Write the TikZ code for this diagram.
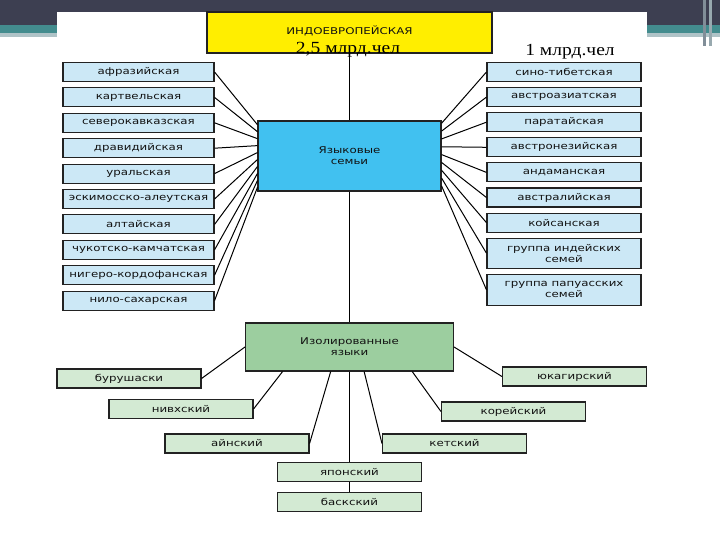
\documentclass[tikz,border=0pt]{standalone}
\usepackage{fontspec}
\setmainfont{DejaVu Sans}
\newfontfamily\boxfont[FakeStretch=1.27]{DejaVu Sans}
\newfontfamily\notefont[FakeStretch=1.15]{Liberation Serif}
\usetikzlibrary{positioning,calc}

\definecolor{slidedark}{HTML}{3D3F51}
\definecolor{slideteal}{HTML}{438C8E}
\definecolor{slidegrey}{HTML}{AFC3C7}
\definecolor{boxline}{HTML}{222222}
\definecolor{boxtext}{HTML}{111111}
\definecolor{topfill}{HTML}{FFEE00}
\definecolor{hubfill}{HTML}{41C1F0}
\definecolor{famfill}{HTML}{CCE8F6}
\definecolor{isofill}{HTML}{9CCE9F}
\definecolor{langfill}{HTML}{D3EAD3}

\begin{document}
\begin{tikzpicture}[
  x=1pt, y=-1pt,
  font=\boxfont\fontsize{9.3}{10.8}\selectfont, text=boxtext,
  box/.style={draw=boxline, line width=1.1pt, align=center, inner sep=0pt},
  fam/.style={box, fill=famfill, minimum width=151pt, minimum height=19pt},
  famr/.style={box, fill=famfill, minimum width=154pt, minimum height=19pt},
  lang/.style={box, fill=langfill, minimum width=144pt, minimum height=19pt},
  link/.style={draw=black, line width=1pt},
  note/.style={font=\notefont\fontsize{17}{17}\selectfont, text=black, inner sep=0pt}
]
  \useasboundingbox (0,0) rectangle (720,540);

  % slide background
  \fill[slidedark] (0,0) rectangle (720,25);
  \fill[slideteal] (0,25) rectangle (720,33);
  \fill[slidegrey] (0,33) rectangle (720,37);
  \fill[slidegrey!60!slidedark] (703,0) rectangle (706,46);
  \fill[slidegrey!80!slidedark] (709,0) rectangle (712,46);
  \fill[white] (57,12) rectangle (647,540);

  % top and hub
  \node[box, fill=topfill, minimum width=285pt, minimum height=41pt] (indo) at (349.5,32.5) {};
  \node at (349.5,31) {ИНДОЕВРОПЕЙСКАЯ};
  \node[note] (people) at (348,50) {2,5 млрд.чел};
  \node[note] (other) at (570,52) {1 млрд.чел};
  \node[box, fill=hubfill, minimum width=183pt, minimum height=70pt] (hub) at (349.5,156) {Языковые\\семьи};

  % left families
  \node[fam] (afr) at (138.5,72) {афразийская};
  \node[fam, below=5.3pt of afr] (kart) {картвельская};
  \node[fam, below=5.3pt of kart] (nkav) {северокавказская};
  \node[fam, below=5.3pt of nkav] (drav) {дравидийская};
  \node[fam, below=5.3pt of drav] (ural) {уральская};
  \node[fam, below=5.3pt of ural] (eskal) {эскимосско-алеутская};
  \node[fam, below=5.3pt of eskal] (alt) {алтайская};
  \node[fam, below=5.3pt of alt] (chuk) {чукотско-камчатская};
  \node[fam, below=5.3pt of chuk] (niger) {нигеро-кордофанская};
  \node[fam, below=5.3pt of niger] (nilo) {нило-сахарская};

  % right families
  \node[famr] (sino) at (564,72) {сино-тибетская};
  \node[famr, below=5pt of sino] (austas) {австроазиатская};
  \node[famr, below=5pt of austas] (parat) {паратайская};
  \node[famr, below=5pt of parat] (austro) {австронезийская};
  \node[famr, below=5pt of austro] (andam) {андаманская};
  \node[famr, below=5pt of andam] (austr) {австралийская};
  \node[famr, below=5pt of austr] (khoi) {койсанская};
  \node[famr, minimum height=30pt, below=5pt of khoi] (amer) {группа индейских\\семей};
  \node[famr, minimum height=31pt, below=5pt of amer] (papua) {группа папуасских\\семей};

  % isolates
  \node[box, fill=isofill, minimum width=208pt, minimum height=48pt] (iso) at (349.5,347) {Изолированные\\языки};
  \node[lang] (bur) at (129,378.5) {бурушаски};
  \node[lang] (niv) at (181,409) {нивхский};
  \node[lang] (ain) at (237,443.5) {айнский};
  \node[lang] (jap) at (349.5,472) {японский};
  \node[lang, below=10pt of jap] (bask) {баскский};
  \node[lang] (ket) at (454.5,443.5) {кетский};
  \node[lang] (kor) at (513.5,411.5) {корейский};
  \node[lang] (yuk) at (574.5,376.5) {юкагирский};

  % trunk
  \draw[link] (indo.south) -- (hub.north);
  \draw[link] (hub.south) -- (iso.north);

  % left fan
  \draw[link] (afr.east) -- ($(hub.north west)!0.06!(hub.south west)$);
  \draw[link] (kart.east) -- ($(hub.north west)!0.158!(hub.south west)$);
  \draw[link] (nkav.east) -- ($(hub.north west)!0.256!(hub.south west)$);
  \draw[link] (drav.east) -- ($(hub.north west)!0.354!(hub.south west)$);
  \draw[link] (ural.east) -- ($(hub.north west)!0.452!(hub.south west)$);
  \draw[link] (eskal.east) -- ($(hub.north west)!0.55!(hub.south west)$);
  \draw[link] (alt.east) -- ($(hub.north west)!0.648!(hub.south west)$);
  \draw[link] (chuk.east) -- ($(hub.north west)!0.746!(hub.south west)$);
  \draw[link] (niger.east) -- ($(hub.north west)!0.844!(hub.south west)$);
  \draw[link] (nilo.east) -- ($(hub.north west)!0.94!(hub.south west)$);

  % right fan
  \draw[link] (sino.west) -- ($(hub.north east)!0.04!(hub.south east)$);
  \draw[link] (austas.west) -- ($(hub.north east)!0.15!(hub.south east)$);
  \draw[link] (parat.west) -- ($(hub.north east)!0.26!(hub.south east)$);
  \draw[link] (austro.west) -- ($(hub.north east)!0.37!(hub.south east)$);
  \draw[link] (andam.west) -- ($(hub.north east)!0.48!(hub.south east)$);
  \draw[link] (austr.west) -- ($(hub.north east)!0.59!(hub.south east)$);
  \draw[link] (khoi.west) -- ($(hub.north east)!0.70!(hub.south east)$);
  \draw[link] (amer.west) -- ($(hub.north east)!0.81!(hub.south east)$);
  \draw[link] (papua.west) -- ($(hub.north east)!0.92!(hub.south east)$);

  % isolate links
  \draw[link] (iso.west) -- (bur.east);
  \draw[link] ($(iso.south west)!0.18!(iso.south east)$) -- (niv.east);
  \draw[link] ($(iso.south west)!0.41!(iso.south east)$) -- (ain.east);
  \draw[link] (iso.south) -- (jap.north);
  \draw[link] (jap.south) -- (bask.north);
  \draw[link] ($(iso.south west)!0.57!(iso.south east)$) -- (ket.west);
  \draw[link] ($(iso.south west)!0.80!(iso.south east)$) -- (kor.west);
  \draw[link] (iso.east) -- (yuk.west);
\end{tikzpicture}
\end{document}
